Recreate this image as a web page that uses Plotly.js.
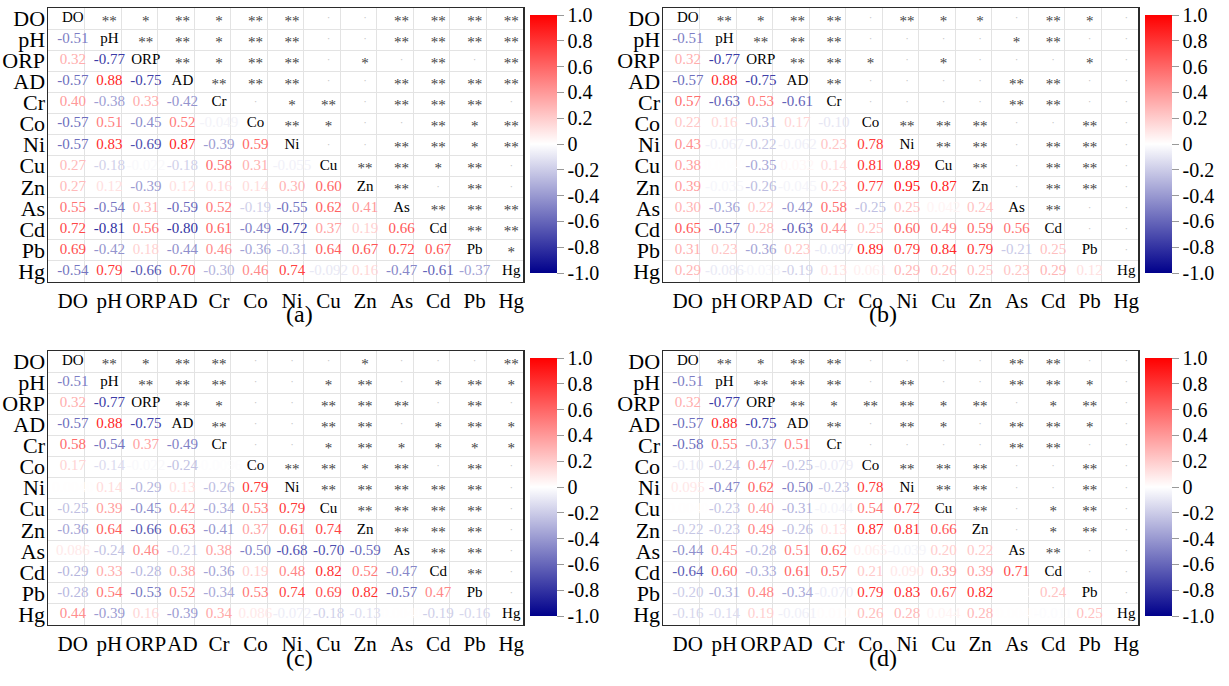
<!DOCTYPE html>
<html><head><meta charset="utf-8">
<script src="https://cdn.plot.ly/plotly-3.0.1.min.js"></script>
<style>html,body{margin:0;padding:0;background:#fff}#chart{width:1229px;height:686px}</style>
</head><body><div id="chart"></div>
<script>
// ---------- data ----------
const vars = ['DO','pH','ORP','AD','Cr','Co','Ni','Cu','Zn','As','Cd','Pb','Hg'];
const panelLabels = ['(a)','(b)','(c)','(d)'];
const cbTickVals = [-1,-0.8,-0.6,-0.4,-0.2,0,0.2,0.4,0.6,0.8,1];
const cbTickText = ['-1.0','-0.8','-0.6','-0.4','-0.2','0','0.2','0.4','0.6','0.8','1.0'];

// lower triangle: row i holds correlations with columns 0..i-1
const corrA = [
  [],
  [-0.51],
  [0.32,-0.77],
  [-0.57,0.88,-0.75],
  [0.40,-0.38,0.33,-0.42],
  [-0.57,0.51,-0.45,0.52,-0.049],
  [-0.57,0.83,-0.69,0.87,-0.39,0.59],
  [0.27,-0.18,-0.022,-0.18,0.58,0.31,-0.055],
  [0.27,0.12,-0.39,0.12,0.16,0.14,0.30,0.60],
  [0.55,-0.54,0.31,-0.59,0.52,-0.19,-0.55,0.62,0.41],
  [0.72,-0.81,0.56,-0.80,0.61,-0.49,-0.72,0.37,0.19,0.66],
  [0.69,-0.42,0.18,-0.44,0.46,-0.36,-0.31,0.64,0.67,0.72,0.67],
  [-0.54,0.79,-0.66,0.70,-0.30,0.46,0.74,-0.092,0.16,-0.47,-0.61,-0.37]
];
const corrB = [
  [],
  [-0.51],
  [0.32,-0.77],
  [-0.57,0.88,-0.75],
  [0.57,-0.63,0.53,-0.61],
  [0.22,0.16,-0.31,0.17,-0.10],
  [0.43,-0.067,-0.22,-0.062,0.23,0.78],
  [0.38,0.004,-0.35,0.032,0.14,0.81,0.89],
  [0.39,-0.035,-0.26,-0.045,0.23,0.77,0.95,0.87],
  [0.30,-0.36,0.22,-0.42,0.58,-0.25,0.25,0.042,0.24],
  [0.65,-0.57,0.28,-0.63,0.44,0.25,0.60,0.49,0.59,0.56],
  [0.31,0.23,-0.36,0.23,-0.097,0.89,0.79,0.84,0.79,-0.21,0.25],
  [0.29,-0.086,-0.038,-0.19,0.13,0.061,0.29,0.26,0.25,0.23,0.29,0.12]
];
const corrC = [
  [],
  [-0.51],
  [0.32,-0.77],
  [-0.57,0.88,-0.75],
  [0.58,-0.54,0.37,-0.49],
  [0.17,-0.14,-0.022,-0.24,-0.0096],
  [0.004,0.14,-0.29,0.13,-0.26,0.79],
  [-0.25,0.39,-0.45,0.42,-0.34,0.53,0.79],
  [-0.36,0.64,-0.66,0.63,-0.41,0.37,0.61,0.74],
  [0.086,-0.24,0.46,-0.21,0.38,-0.50,-0.68,-0.70,-0.59],
  [-0.29,0.33,-0.28,0.38,-0.36,0.19,0.48,0.82,0.52,-0.47],
  [-0.28,0.54,-0.53,0.52,-0.34,0.53,0.74,0.69,0.82,-0.57,0.47],
  [0.44,-0.39,0.16,-0.39,0.34,0.086,-0.072,-0.18,-0.13,0.004,-0.19,-0.16]
];
const corrD = [
  [],
  [-0.51],
  [0.32,-0.77],
  [-0.57,0.88,-0.75],
  [-0.58,0.55,-0.37,0.51],
  [-0.10,-0.24,0.47,-0.25,-0.079],
  [0.095,-0.47,0.62,-0.50,-0.23,0.78],
  [0.004,-0.23,0.40,-0.31,-0.044,0.54,0.72],
  [-0.22,-0.23,0.49,-0.26,0.13,0.87,0.81,0.66],
  [-0.44,0.45,-0.28,0.51,0.62,0.065,-0.039,0.20,0.22],
  [-0.64,0.60,-0.33,0.61,0.57,0.21,0.090,0.39,0.39,0.71],
  [-0.20,-0.31,0.48,-0.34,-0.070,0.79,0.83,0.67,0.82,0.00075,0.24],
  [-0.16,-0.14,0.19,-0.061,0.010,0.26,0.28,0.044,0.28,0.004,-0.011,0.25]
];

// upper triangle significance: row i holds columns i+1..12
const sigA = [
  ['**','*','**','*','**','**','','','**','**','**','**'],
  ['**','**','*','**','**','','','**','**','**','**'],
  ['**','*','**','**','','*','','**','','**'],
  ['**','**','**','','','**','**','**','**'],
  ['','*','**','','**','**','**',''],
  ['**','*','','','**','*','**'],
  ['','','**','**','*','**'],
  ['**','**','*','**',''],
  ['**','','**',''],
  ['**','**','**'],
  ['**','**'],
  ['*'],
  []
];
const sigB = [
  ['**','*','**','**','','**','*','*','','**','*',''],
  ['**','**','**','','','','','*','**','',''],
  ['**','**','*','','*','','','','*',''],
  ['**','','','','','**','**','',''],
  ['','','','','**','**','',''],
  ['**','**','**','','','**',''],
  ['**','**','','**','**',''],
  ['**','','**','**',''],
  ['','**','**',''],
  ['**','',''],
  ['',''],
  [''],
  []
];
const sigC = [
  ['**','*','**','**','','','','*','','','','**'],
  ['**','**','**','','','*','**','','*','**','*'],
  ['**','*','','','**','**','**','','**',''],
  ['**','','','**','**','','*','**','*'],
  ['','','*','**','*','*','*','*'],
  ['**','**','*','**','','**',''],
  ['**','**','**','**','**',''],
  ['**','**','**','**',''],
  ['**','**','**',''],
  ['**','**',''],
  ['**',''],
  [''],
  []
];
const sigD = [
  ['**','*','**','**','','','','','**','**','',''],
  ['**','**','**','','**','','','**','**','*',''],
  ['**','*','**','**','*','**','','*','**',''],
  ['**','','**','*','','**','**','*',''],
  ['','','','','**','**','',''],
  ['**','**','**','','','**',''],
  ['**','**','','','**',''],
  ['**','','*','**',''],
  ['','*','**',''],
  ['**','',''],
  ['',''],
  [''],
  []
];

// ---------- drawing ----------
const corrs = [corrA, corrB, corrC, corrD];
const sigs = [sigA, sigB, sigC, sigD];
const FONT = 'Liberation Serif, Times New Roman, serif';
const NEG = [0,0,139], POS = [255,0,0];
const colorscale = [[0,'rgb(0,0,139)'],[0.5,'rgb(255,255,255)'],[1,'rgb(255,0,0)']];

function valColor(v){
  const t = Math.min(1, Math.abs(v));
  const end = v < 0 ? NEG : POS;
  const c = end.map(e => Math.round(255 + (e - 255) * t));
  return 'rgb(' + c.join(',') + ')';
}
function fmt(v){
  const a = Math.abs(v);
  if (a === 0) return '0';
  if (a < 0.001) return v.toExponential(1).toUpperCase().replace(/E([+-])(\d)$/, 'E$10$2');
  if (a < 0.1) return v.toPrecision(2);
  return v.toFixed(2);
}

// pixel frame of the four panels
const W = 1229, H = 686;
const colX = [[48,523],[663,1138]];
const rowY = [[8,281.5],[351,624.5]];
const n = vars.length;
const shift = 0.178;               // text sits a little right of the cell centre
const xRange = [-0.5 - shift, n - 0.5 - shift];
const yRange = [n - 0.5, -0.5];
const xBound = [], yBound = [];
for (let k = 0; k < n - 1; k++){ xBound.push(k + 0.5 - shift); yBound.push(k + 0.5); }

const traces = [];
const layout = {
  width: W, height: H, margin: {l:0,r:0,t:0,b:0},
  paper_bgcolor: '#fff', plot_bgcolor: '#fff', showlegend: false,
  font: {family: FONT, color: '#000'},
  annotations: []
};

for (let p = 0; p < 4; p++){
  const cx = colX[p % 2], ry = rowY[Math.floor(p / 2)];
  const xa = p === 0 ? 'x' : 'x' + (p + 1);
  const ya = p === 0 ? 'y' : 'y' + (p + 1);
  const xkey = p === 0 ? 'xaxis' : 'xaxis' + (p + 1);
  const ykey = p === 0 ? 'yaxis' : 'yaxis' + (p + 1);
  const corr = corrs[p], sig = sigs[p];

  const axisCommon = {
    showgrid: false, zeroline: false, showline: true, mirror: true,
    linecolor: '#2b2b2b', linewidth: 1.5, ticks: '', fixedrange: true,
    tickmode: 'array', tickvals: vars.map((_, i) => i), ticktext: vars, tickangle: 0
  };
  layout[xkey] = Object.assign({}, axisCommon, {
    domain: [cx[0] / W, cx[1] / W], range: xRange, anchor: ya,
    tickfont: {family: FONT, size: 21, color: '#000'},
    minor: {tickmode: 'array', tickvals: xBound, showgrid: true, gridcolor: '#e3e3e3', gridwidth: 1, ticks: ''}
  });
  layout[ykey] = Object.assign({}, axisCommon, {
    domain: [1 - ry[1] / H, 1 - ry[0] / H], range: yRange, anchor: xa,
    tickfont: {family: FONT, size: 22, color: '#000'}, ticklabelstandoff: -3,
    minor: {tickmode: 'array', tickvals: yBound, showgrid: true, gridcolor: '#e3e3e3', gridwidth: 1, ticks: ''}
  });

  // lower triangle values
  const lx = [], ly = [], lt = [], lc = [], lv = [];
  corr.forEach((row, i) => row.forEach((v, j) => {
    lx.push(j); ly.push(i); lt.push(fmt(v)); lc.push(valColor(v)); lv.push(v);
  }));
  traces.push({type: 'scatter', mode: 'text', xaxis: xa, yaxis: ya, x: lx, y: ly, text: lt,
    textposition: 'middle center', textfont: {family: FONT, size: 15, color: lc}, hoverinfo: 'skip'});

  // diagonal names
  traces.push({type: 'scatter', mode: 'text', xaxis: xa, yaxis: ya,
    x: vars.map((_, i) => i), y: vars.map((_, i) => i), text: vars,
    textposition: 'middle center', textfont: {family: FONT, size: 15, color: '#000'}, hoverinfo: 'skip'});

  // significance stars and dots
  const sx = [], sy = [], st = [], dx = [], dy = [];
  sig.forEach((row, i) => row.forEach((s, k) => {
    const j = i + 1 + k;
    if (s) { sx.push(j); sy.push(i + 0.18); st.push(s); }
    else { dx.push(j); dy.push(i); }
  }));
  traces.push({type: 'scatter', mode: 'text', xaxis: xa, yaxis: ya, x: sx, y: sy, text: st,
    textposition: 'middle center', textfont: {family: FONT, size: 15, color: '#444444'}, hoverinfo: 'skip'});
  traces.push({type: 'scatter', mode: 'text', xaxis: xa, yaxis: ya, x: dx, y: dy, text: dx.map(() => '·'),
    textposition: 'middle center', textfont: {family: FONT, size: 11, color: '#c4c4c4'}, hoverinfo: 'skip'});

  // colour bar
  const cbTop = ry[0] + 7, cbBot = ry[1] - 8.5;
  traces.push({type: 'scatter', mode: 'markers', xaxis: xa, yaxis: ya, x: lx, y: ly, hoverinfo: 'skip',
    marker: {size: 1, opacity: 0, color: lv, colorscale: colorscale, cmin: -1, cmax: 1, showscale: true,
      colorbar: {x: (cx[1] + 7) / W, xanchor: 'left', xpad: 0, ypad: 0,
        y: 1 - (cbTop + cbBot) / 2 / H, yanchor: 'middle', lenmode: 'pixels', len: cbBot - cbTop,
        thickness: 27, outlinewidth: 0, ticks: 'outside', ticklen: 7, tickcolor: '#999', tickwidth: 1,
        tickmode: 'array', tickvals: cbTickVals, ticktext: cbTickText, tickprefix: '\u00A0',
        tickfont: {family: FONT, size: 20, color: '#000'}}}});

  // panel caption
  layout.annotations.push({xref: 'paper', yref: 'paper', showarrow: false,
    x: ((cx[0] + cx[1]) / 2 - 2) / W, y: 1 - (ry[1] + 33) / H, yanchor: 'middle',
    text: panelLabels[p], font: {family: FONT, size: 24, color: '#000'}});
}

Plotly.newPlot('chart', traces, layout, {displayModeBar: false, staticPlot: true});
</script>
</body></html>
